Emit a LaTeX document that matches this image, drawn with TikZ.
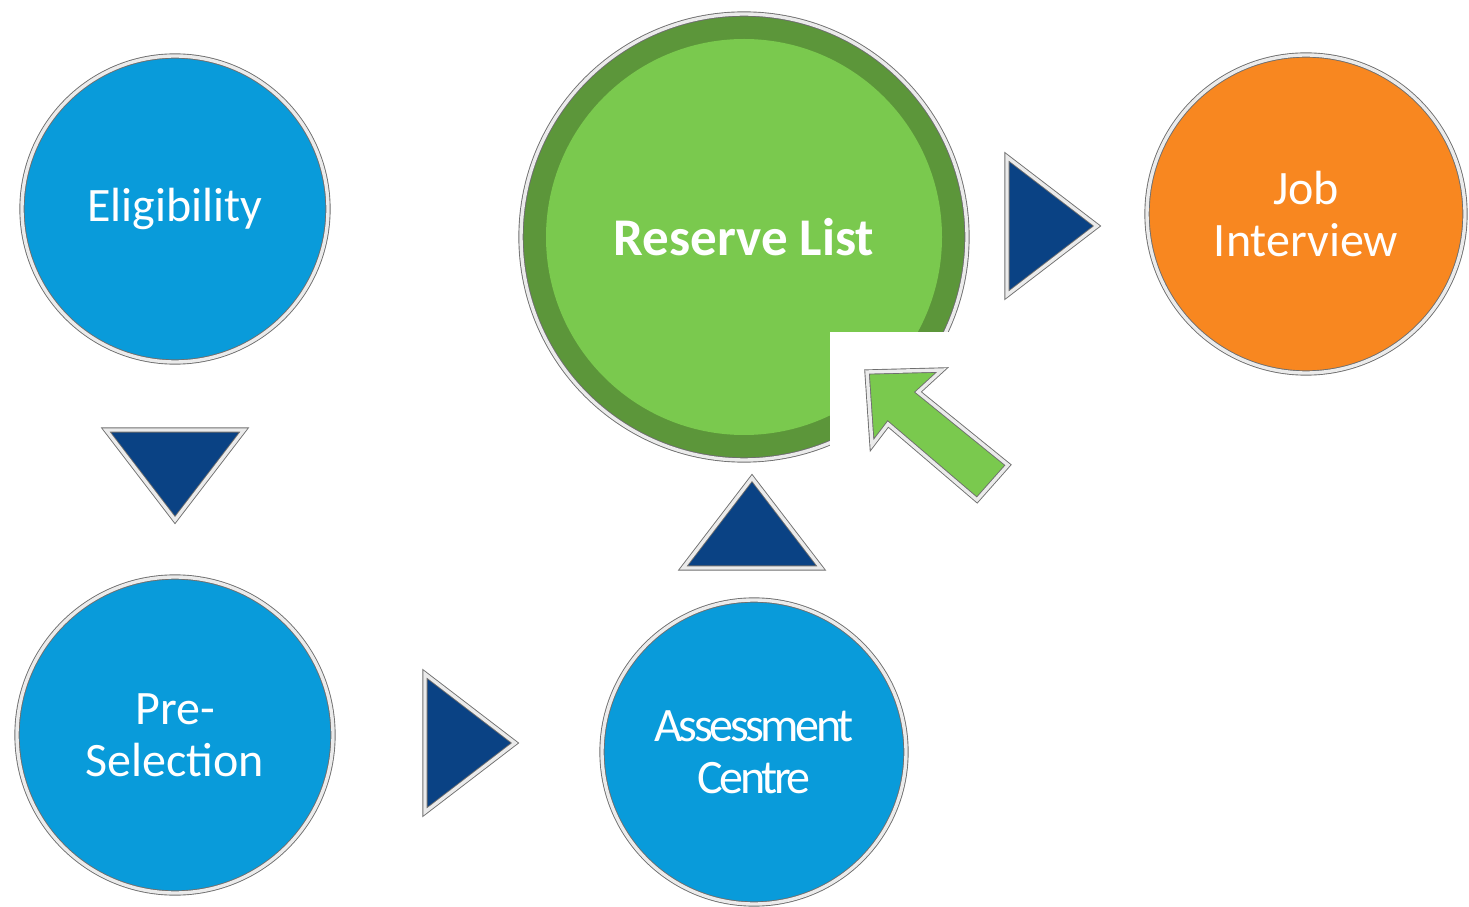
\documentclass[tikz,border=0pt]{standalone}
\usepackage{fontspec}
\setmainfont{Carlito}
\usetikzlibrary{positioning}
\definecolor{stagebg}{RGB}{9,155,218}
\definecolor{reservelight}{RGB}{122,201,78}
\definecolor{reservedark}{RGB}{92,150,58}
\definecolor{joborange}{RGB}{248,135,32}
\definecolor{pointernavy}{RGB}{10,66,132}
\definecolor{bevelgray}{RGB}{110,110,110}
\tikzset{%
  bevel/.style={draw=bevelgray, line width=0.9pt, double=white!92!black, double distance=3.4pt},
  pointer/.pic={%
    \filldraw [bevel, fill=pointernavy, line join=miter] (-30,-69) -- (60,0) -- (-30,69) -- cycle;
  },
}

\begin{document}
\begin{tikzpicture}
    [x=1pt, y=1pt, node distance=528pt,
    stage/.style={circle, bevel, fill=stagebg, text=white, align=center, inner sep=0pt,
    font=\fontsize{48}{52}\selectfont},
    reserve/.style={stage, fill=reservedark, minimum size=446pt, font=\fontsize{53}{56}\selectfont\bfseries,
    path picture={\fill [reservelight] (path picture bounding box.center) circle [radius=198pt];}},
    tight/.style={font=\fontsize{48}{52}\selectfont\addfontfeature{LetterSpace=-7}}]
    \useasboundingbox (0,0) rectangle (1469,906);
    \node [stage, minimum size=306pt] (elig) at (175,697) {Eligibility};
    \node [stage, minimum size=316pt, below of=elig, node distance=526pt] (presel) {Pre-\\Selection};
    \node [stage, tight, minimum size=304pt, right of=presel, node distance=579pt, yshift=-17pt]
    (assess) {Assessment\\Centre};
    \node [reserve, above of=assess, node distance=515pt, xshift=-10pt] (reserve) {Reserve List};
    \node [stage, fill=joborange, minimum size=318pt, right of=reserve, node distance=562pt,
    yshift=23pt] (job) {Job\\Interview};

    % pointers between the stages
    \pic [rotate=-90] at (175,446) {pointer};
    \pic at (455,163) {pointer};
    \pic [rotate=90] at (752,368) {pointer};
    \pic at (1037,680) {pointer};

    % cut-out corner and green arrow
    \fill [white] (830,574) rectangle (992,430);
    \filldraw [bevel, fill=reservelight, line join=miter]
    (867,534) -- (942,536) -- (918,514) -- (1008,441) -- (977,406) -- (888,482) -- (872,461) -- cycle;
\end{tikzpicture}
\end{document}
